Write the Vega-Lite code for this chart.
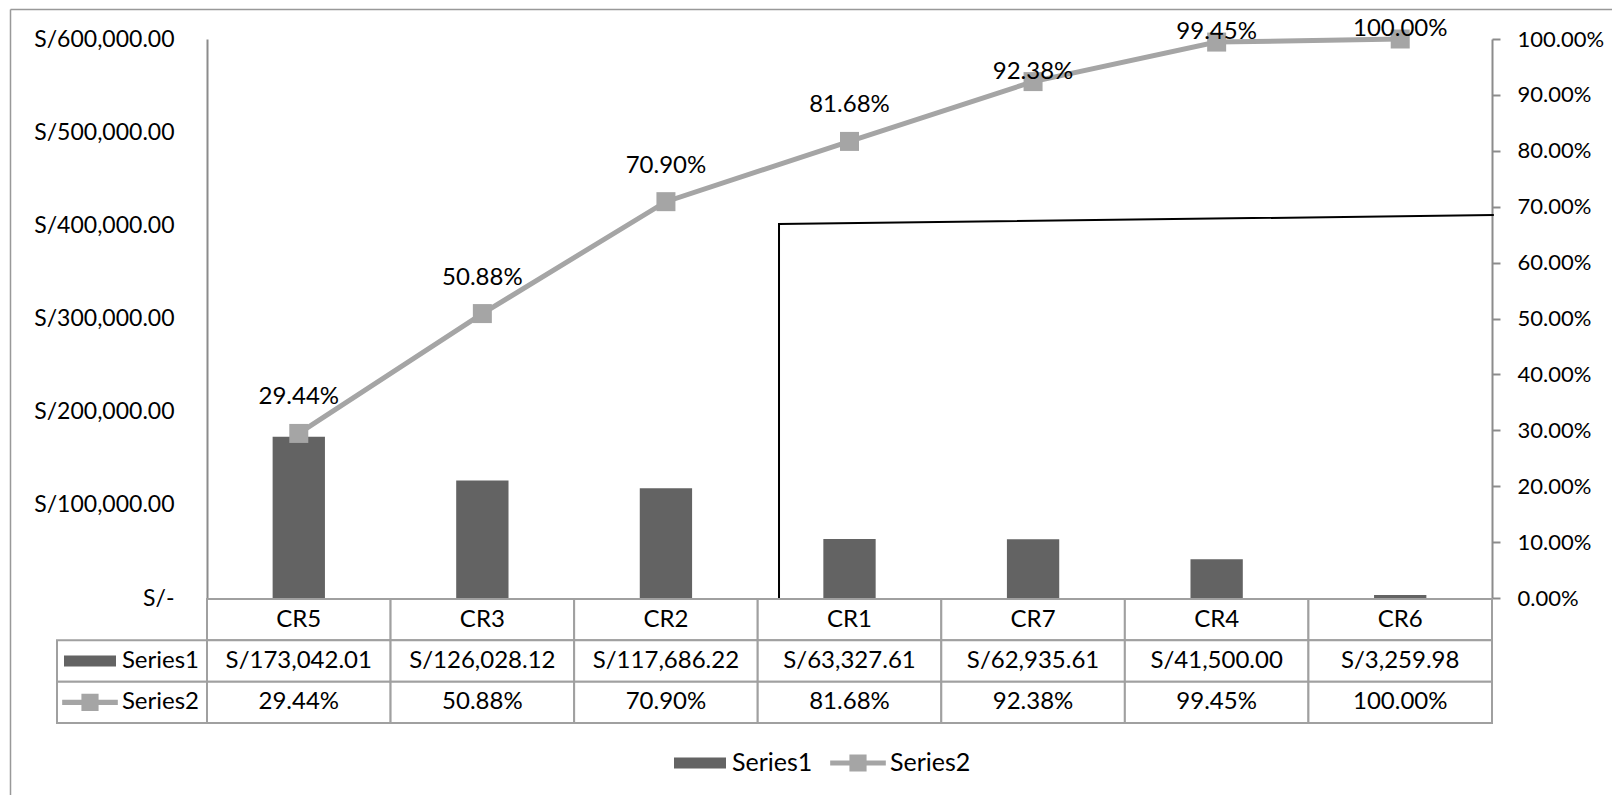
{
  "$schema": "https://vega.github.io/schema/vega-lite/v6.json",
  "width": 1285,
  "height": 559,
  "autosize": {"type": "none"},
  "padding": {"left": 207, "top": 39, "right": 120, "bottom": 197},
  "background": "white",
  "config": {
    "font": "Lato",
    "view": {"stroke": null},
    "axis": {"labelFont": "Lato", "labelColor": "#000000", "grid": false, "title": null}
  },
  "datasets": {
    "pareto": [
      {"cat": "CR5", "amount": 173042.01, "pct": 0.2944},
      {"cat": "CR3", "amount": 126028.12, "pct": 0.5088},
      {"cat": "CR2", "amount": 117686.22, "pct": 0.709},
      {"cat": "CR1", "amount": 63327.61, "pct": 0.8168},
      {"cat": "CR7", "amount": 62935.61, "pct": 0.9238},
      {"cat": "CR4", "amount": 41500.0, "pct": 0.9945},
      {"cat": "CR6", "amount": 3259.98, "pct": 1.0}
    ],
    "keys": [
      {"row": "s1", "name": "Series1"},
      {"row": "s2", "name": "Series2"}
    ],
    "marker": [
      {"ax": 3.116, "p": 0, "seq": 1},
      {"ax": 3.116, "p": 0.669, "seq": 2},
      {"ax": 7.01, "p": 0.685, "seq": 3}
    ]
  },
  "resolve": {
    "scale": {"x": "independent", "y": "independent"},
    "axis": {"x": "independent", "y": "independent"}
  },
  "layer": [
    {
      "data": {"name": "keys"},
      "mark": {"type": "point", "opacity": 0},
      "encoding": {
        "x": {"datum": 0, "type": "quantitative", "scale": {"domain": [0, 1], "range": [-197, 1405], "nice": false}, "axis": {"orient": "top", "offset": 30, "domainColor": "#999999", "domainWidth": 1.5, "ticks": false, "labels": false, "grid": false, "title": null}},
        "y": {"datum": 0, "type": "quantitative", "scale": {"domain": [0, 1], "range": [756, -30], "nice": false}, "axis": {"orient": "left", "offset": 197, "domainColor": "#999999", "domainWidth": 1.5, "ticks": false, "labels": false, "grid": false, "title": null}}
      }
    },
    {
      "data": {"name": "pareto"},
      "mark": {"type": "bar", "width": {"band": 0.285}},
      "encoding": {
        "x": {"field": "cat", "type": "nominal", "sort": null, "scale": {"paddingInner": 0, "paddingOuter": 0}, "axis": null},
        "y": {
          "field": "amount", "type": "quantitative",
          "scale": {"domain": [0, 600000], "nice": false},
          "axis": {
            "orient": "left",
            "values": [0, 100000, 200000, 300000, 400000, 500000, 600000],
            "labelExpr": "datum.value == 0 ? 'S/-' : 'S/' + format(datum.value, ',.2f')",
            "ticks": false,
            "domainColor": "#8c8c8c",
            "domainWidth": 2,
            "labelPadding": 33,
            "labelFontSize": 23,
            "encode": {"labels": {"update": {"dx": {"signal": "datum.value == 0 ? -10 : 0"}}}}
          }
        },
        "color": {
          "datum": "Series1", "type": "nominal",
          "scale": {"domain": ["Series1", "Series2"], "range": ["#636363", "#a5a5a5"]},
          "legend": {
            "orient": "none",
            "legendX": 467,
            "legendY": 698,
            "direction": "horizontal",
            "title": null,
            "labelFont": "Lato",
            "labelFontSize": 25,
            "labelColor": "#000000",
            "symbolSize": 2704,
            "symbolStrokeWidth": 0,
            "symbolOpacity": 1,
            "labelOffset": 6,
            "columnPadding": 17,
            "padding": 0,
            "encode": {
              "symbols": {
                "update": {
                  "shape": {"signal": "datum.value === 'Series1' ? 'M-1,-0.21H1V0.21H-1Z' : 'M-1.07,-0.1H1.07V0.1H-1.07Z M-0.33,-0.33H0.33V0.33H-0.33Z'"},
                  "fill": {"signal": "datum.value === 'Series1' ? '#636363' : '#a5a5a5'"},
                  "strokeWidth": {"value": 0},
                  "opacity": {"value": 1}
                }
              }
            }
          }
        }
      }
    },
    {
      "data": {"name": "pareto"},
      "mark": {"type": "line", "color": "#a5a5a5", "strokeWidth": 5},
      "encoding": {
        "x": {"field": "cat", "type": "nominal", "sort": null, "scale": {"paddingInner": 0, "paddingOuter": 0}, "axis": null},
        "y": {
          "field": "pct", "type": "quantitative",
          "scale": {"domain": [0, 1], "nice": false},
          "axis": {
            "orient": "right",
            "values": [0, 0.1, 0.2, 0.3, 0.4, 0.5, 0.6, 0.7, 0.8, 0.9, 1.0],
            "format": ".2%",
            "tickSize": 8,
            "tickColor": "#8c8c8c",
            "tickWidth": 2,
            "domainColor": "#8c8c8c",
            "domainWidth": 2,
            "labelPadding": 17,
            "labelFontSize": 22
          }
        }
      }
    },
    {
      "data": {"name": "pareto"},
      "mark": {"type": "point", "shape": "square", "filled": true, "size": 361, "color": "#a5a5a5", "opacity": 1},
      "encoding": {
        "x": {"field": "cat", "type": "nominal", "sort": null, "scale": {"paddingInner": 0, "paddingOuter": 0}, "axis": null},
        "y": {"field": "pct", "type": "quantitative", "scale": {"domain": [0, 1], "nice": false}, "axis": null}
      }
    },
    {
      "data": {"name": "pareto"},
      "transform": [{"filter": {"field": "cat", "oneOf": ["CR5", "CR3", "CR2", "CR1"]}}],
      "mark": {"type": "text", "dy": -36, "fontSize": 24, "color": "#000000", "baseline": "middle"},
      "encoding": {
        "x": {"field": "cat", "type": "nominal", "scale": {"domain": ["CR5", "CR3", "CR2", "CR1", "CR7", "CR4", "CR6"], "paddingInner": 0, "paddingOuter": 0}, "axis": null},
        "y": {"field": "pct", "type": "quantitative", "scale": {"domain": [0, 1], "nice": false}, "axis": null},
        "text": {"field": "pct", "type": "quantitative", "format": ".2%"}
      }
    },
    {
      "data": {"name": "pareto"},
      "transform": [{"filter": {"field": "cat", "oneOf": ["CR7", "CR4", "CR6"]}}],
      "mark": {"type": "text", "dy": -10, "fontSize": 24, "color": "#000000", "baseline": "middle"},
      "encoding": {
        "x": {"field": "cat", "type": "nominal", "scale": {"domain": ["CR5", "CR3", "CR2", "CR1", "CR7", "CR4", "CR6"], "paddingInner": 0, "paddingOuter": 0}, "axis": null},
        "y": {"field": "pct", "type": "quantitative", "scale": {"domain": [0, 1], "nice": false}, "axis": null},
        "text": {"field": "pct", "type": "quantitative", "format": ".2%"}
      }
    },
    {
      "data": {"name": "marker"},
      "mark": {"type": "line", "color": "#000000", "strokeWidth": 2},
      "encoding": {
        "x": {"field": "ax", "type": "quantitative", "scale": {"domain": [0, 7], "nice": false, "zero": false}, "axis": null},
        "y": {"field": "p", "type": "quantitative", "scale": {"domain": [0, 1], "nice": false}, "axis": null},
        "order": {"field": "seq", "type": "quantitative"}
      }
    },
    {
      "data": {"name": "pareto"},
      "transform": [
        {"calculate": "datum.cat", "as": "header"},
        {"calculate": "'S/' + format(datum.amount, ',.2f')", "as": "s1"},
        {"calculate": "format(datum.pct, '.2%')", "as": "s2"},
        {"fold": ["header", "s1", "s2"], "as": ["row", "label"]}
      ],
      "mark": {"type": "rect", "fill": "white", "stroke": "#a0a0a0", "strokeWidth": 2},
      "encoding": {
        "x": {"field": "cat", "type": "nominal", "scale": {"domain": ["CR5", "CR3", "CR2", "CR1", "CR7", "CR4", "CR6"], "paddingInner": 0, "paddingOuter": 0}, "axis": null},
        "y": {"field": "row", "type": "nominal", "scale": {"domain": ["header", "s1", "s2"], "range": [560, 684], "paddingInner": 0, "paddingOuter": 0}, "axis": null}
      }
    },
    {
      "data": {"name": "pareto"},
      "transform": [
        {"calculate": "datum.cat", "as": "header"},
        {"calculate": "'S/' + format(datum.amount, ',.2f')", "as": "s1"},
        {"calculate": "format(datum.pct, '.2%')", "as": "s2"},
        {"fold": ["header", "s1", "s2"], "as": ["row", "label"]}
      ],
      "mark": {"type": "text", "fontSize": 24, "color": "#000000", "baseline": "middle", "align": "center"},
      "encoding": {
        "x": {"field": "cat", "type": "nominal", "scale": {"domain": ["CR5", "CR3", "CR2", "CR1", "CR7", "CR4", "CR6"], "paddingInner": 0, "paddingOuter": 0}, "axis": null},
        "y": {"field": "row", "type": "nominal", "scale": {"domain": ["header", "s1", "s2"], "range": [560, 684], "paddingInner": 0, "paddingOuter": 0}, "axis": null},
        "text": {"field": "label", "type": "nominal"}
      }
    },
    {
      "data": {"name": "keys"},
      "mark": {"type": "rect", "fill": "white", "stroke": "#a0a0a0", "strokeWidth": 2},
      "encoding": {
        "x": {"datum": "key", "type": "nominal", "scale": {"domain": ["key"], "range": [-150, 0], "paddingInner": 0, "paddingOuter": 0}, "axis": null},
        "y": {"field": "row", "type": "nominal", "scale": {"domain": ["header", "s1", "s2"], "range": [560, 684], "paddingInner": 0, "paddingOuter": 0}, "axis": null}
      }
    },
    {
      "data": {"name": "keys"},
      "mark": {"type": "text", "fontSize": 24, "color": "#000000", "baseline": "middle", "align": "right", "xOffset": 67},
      "encoding": {
        "x": {"datum": "key", "type": "nominal", "scale": {"domain": ["key"], "range": [-150, 0], "paddingInner": 0, "paddingOuter": 0}, "axis": null},
        "y": {"field": "row", "type": "nominal", "scale": {"domain": ["header", "s1", "s2"], "range": [560, 684], "paddingInner": 0, "paddingOuter": 0}, "axis": null},
        "text": {"field": "name", "type": "nominal"}
      }
    },
    {
      "data": {"name": "keys"},
      "transform": [{"filter": "datum.row === 's1'"}],
      "mark": {"type": "point", "shape": "M-1,-0.21H1V0.21H-1Z", "size": 2704, "filled": true, "color": "#636363", "opacity": 1, "xOffset": -42, "strokeWidth": 0},
      "encoding": {
        "x": {"datum": "key", "type": "nominal", "scale": {"domain": ["key"], "range": [-150, 0], "paddingInner": 0, "paddingOuter": 0}, "axis": null},
        "y": {"field": "row", "type": "nominal", "scale": {"domain": ["header", "s1", "s2"], "range": [560, 684], "paddingInner": 0, "paddingOuter": 0}, "axis": null}
      }
    },
    {
      "data": {"name": "keys"},
      "transform": [{"filter": "datum.row === 's2'"}],
      "mark": {"type": "point", "shape": "M-1.07,-0.1H1.07V0.1H-1.07Z M-0.33,-0.33H0.33V0.33H-0.33Z", "size": 2704, "filled": true, "color": "#a5a5a5", "opacity": 1, "xOffset": -42, "strokeWidth": 0},
      "encoding": {
        "x": {"datum": "key", "type": "nominal", "scale": {"domain": ["key"], "range": [-150, 0], "paddingInner": 0, "paddingOuter": 0}, "axis": null},
        "y": {"field": "row", "type": "nominal", "scale": {"domain": ["header", "s1", "s2"], "range": [560, 684], "paddingInner": 0, "paddingOuter": 0}, "axis": null}
      }
    }
  ]
}
